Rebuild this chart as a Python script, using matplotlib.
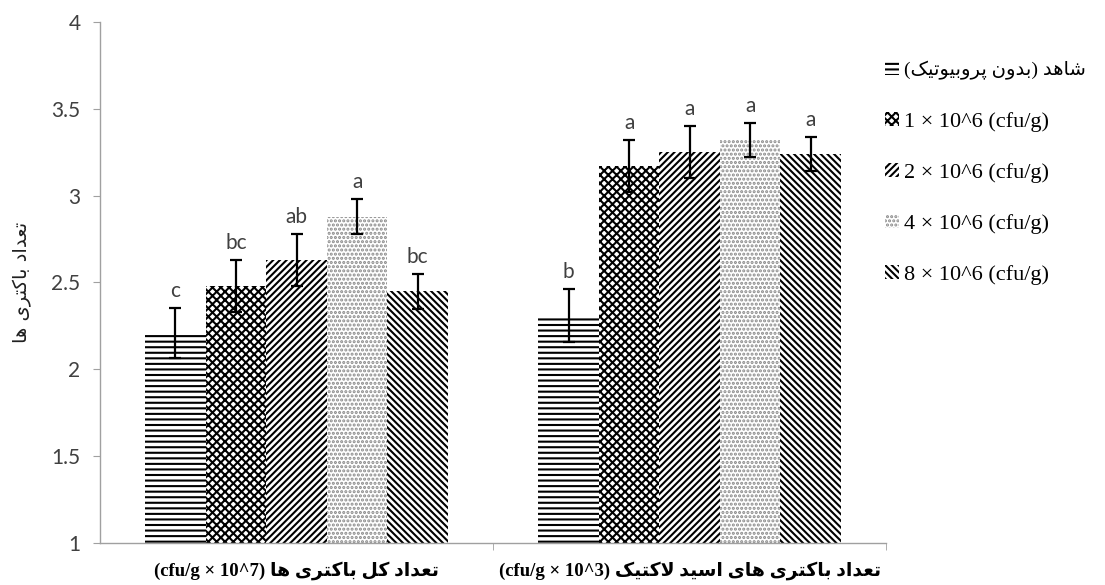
import numpy as np
import matplotlib
matplotlib.use('Agg')
import matplotlib.pyplot as plt
from matplotlib.patches import Patch

groups = ['total', 'lactic']
series = ['شاهد (بدون پروبیوتیک)',
          '1 × 10^6 (cfu/g)',
          '2 × 10^6 (cfu/g)',
          '4 × 10^6 (cfu/g)',
          '8 × 10^6 (cfu/g)']
vals_total = [2.21, 2.48, 2.63, 2.88, 2.45]
vals_lactic = [2.31, 3.17, 3.25, 3.32, 3.24]
err_total = [0.145, 0.15, 0.15, 0.10, 0.10]
err_lactic = [0.15, 0.15, 0.15, 0.10, 0.10]
let_total = ['c', 'bc', 'ab', 'a', 'bc']
let_lactic = ['b', 'a', 'a', 'a', 'a']
xlabel_fa = ['تعداد کل باکتری ها', 'تعداد باکتری های اسید لاکتیک']
xlabel_en = ['(cfu/g × 10^7)', '(cfu/g × 10^3)']
ylabel_fa = 'تعداد باکتری ها'

# presentation forms: isolated, final, initial, medial
FORMS = {
    'ا': ('\uFE8D', '\uFE8E', None, None),
    'ب': ('\uFE8F', '\uFE90', '\uFE91', '\uFE92'),
    'پ': ('\uFB56', '\uFB57', '\uFB58', '\uFB59'),
    'ت': ('\uFE95', '\uFE96', '\uFE97', '\uFE98'),
    'د': ('\uFEA9', '\uFEAA', None, None),
    'ر': ('\uFEAD', '\uFEAE', None, None),
    'س': ('\uFEB1', '\uFEB2', '\uFEB3', '\uFEB4'),
    'ش': ('\uFEB5', '\uFEB6', '\uFEB7', '\uFEB8'),
    'ع': ('\uFEC9', '\uFECA', '\uFECB', '\uFECC'),
    'ک': ('\uFB8E', '\uFB8F', '\uFB90', '\uFB91'),
    'ل': ('\uFEDD', '\uFEDE', '\uFEDF', '\uFEE0'),
    'ن': ('\uFEE5', '\uFEE6', '\uFEE7', '\uFEE8'),
    'ه': ('\uFEE9', '\uFEEA', '\uFEEB', '\uFEEC'),
    'و': ('\uFEED', '\uFEEE', None, None),
    'ی': ('\uFBFC', '\uFBFD', '\uFBFE', '\uFBFF'),
}


def rtl(s):
    # matplotlib does no arabic shaping / bidi, so do it by hand
    out = []
    i = 0
    n = len(s)
    while i < n:
        c = s[i]
        if c not in FORMS:
            out.append(c)
            i += 1
            continue
        prev = s[i - 1] if i > 0 else ''
        joins_prev = prev in FORMS and FORMS[prev][2] is not None
        if c == 'ل' and i + 1 < n and s[i + 1] == 'ا':
            out.append('\uFEFC' if joins_prev else '\uFEFB')
            i += 2
            continue
        nxt = s[i + 1] if i + 1 < n else ''
        joins_next = FORMS[c][2] is not None and nxt in FORMS
        if joins_prev and joins_next:
            out.append(FORMS[c][3])
        elif joins_prev:
            out.append(FORMS[c][1])
        elif joins_next:
            out.append(FORMS[c][2])
        else:
            out.append(FORMS[c][0])
        i += 1
    vis = ''.join(reversed(out))
    return vis.translate(str.maketrans('()', ')('))


def main():
    plt.rcParams['hatch.linewidth'] = 1.5
    fig = plt.figure(figsize=(11.05, 5.85), dpi=100)
    ax = fig.add_axes([0.0905, 0.0718, 0.7115, 0.8906])

    hatches = ['---', 'xxxx', '/////', '....', '\\\\\\\\\\']
    hcolors = ['black', 'black', 'black', '#8a8a8a', 'black']
    width = 0.154
    x = np.arange(len(groups))
    vals = np.array([vals_total, vals_lactic])
    errs = np.array([err_total, err_lactic])
    lets = [let_total, let_lactic]

    handles = []
    for i in range(len(series)):
        xs = x + (i - 2) * width
        ax.bar(xs, vals[:, i], width, color='white', edgecolor=hcolors[i],
               hatch=hatches[i], linewidth=0, zorder=2)
        ax.errorbar(xs, vals[:, i], yerr=errs[:, i], fmt='none', ecolor='black',
                    elinewidth=1.6, capsize=4.5, capthick=1.6, zorder=3)
        for g in range(len(groups)):
            ax.annotate(lets[g][i], (xs[g], vals[g, i] + errs[g, i]),
                        xytext=(0, 5), textcoords='offset points',
                        ha='center', va='bottom', fontsize=15,
                        family='Lato', color='#404040')
        lab = rtl(series[i]) if i == 0 else series[i]
        handles.append(Patch(facecolor='white', edgecolor=hcolors[i],
                             hatch=hatches[i], linewidth=0, label=lab))

    ax.set_xlim(-0.5, 1.5)
    ax.set_ylim(1, 4)
    ax.set_yticks(np.arange(1, 4.01, 0.5))
    ax.set_yticklabels(['1', '1.5', '2', '2.5', '3', '3.5', '4'])
    ax.set_xticks(x)
    ax.set_xticklabels([en + ' ' + rtl(fa) for en, fa in zip(xlabel_en, xlabel_fa)],
                       family=['Liberation Serif', 'DejaVu Sans'],
                       fontweight='bold', fontsize=13.5)
    ax.set_xticks([0.5, 1.5], minor=True)
    ax.tick_params(axis='x', which='major', length=0, pad=13)
    ax.tick_params(axis='x', which='minor', length=5, color='#a0a0a0')
    ax.tick_params(axis='y', length=5, color='#a0a0a0', labelsize=15,
                   labelcolor='#404040', pad=9)
    for t in ax.get_yticklabels():
        t.set_family('Lato')
    for s in ['top', 'right']:
        ax.spines[s].set_visible(False)
    for s in ['left', 'bottom']:
        ax.spines[s].set_color('#a0a0a0')
        ax.spines[s].set_linewidth(1.0)
    ax.set_ylabel(rtl(ylabel_fa), family='DejaVu Sans', fontsize=14,
                  labelpad=14, color='#202020')

    leg = fig.legend(handles=handles, loc='upper left',
                     bbox_to_anchor=(0.783, 0.93),
                     frameon=False, handlelength=0.6, handleheight=0.6,
                     handletextpad=0.25, labelspacing=1.4,
                     prop={'family': ['Liberation Serif', 'DejaVu Sans'],
                           'size': 16})
    leg.get_texts()[0].set_fontsize(14)

    fig.savefig('out.png', dpi=100)


if __name__ == '__main__':
    main()
